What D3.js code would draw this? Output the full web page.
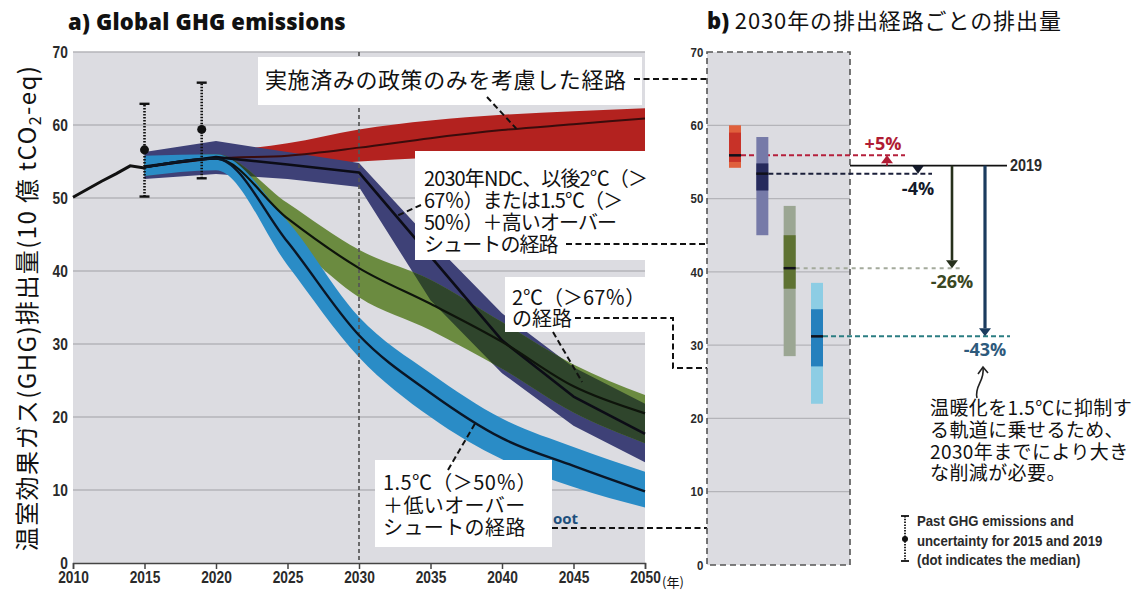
<!DOCTYPE html>
<html>
<head>
<meta charset="utf-8">
<script src="https://cdn.jsdelivr.net/npm/d3@7"></script>
<style>
  html, body { margin: 0; padding: 0; background: #ffffff; }
  svg { display: block; }
  .jp { font-family: "Noto Sans CJK JP", "Noto Sans", sans-serif; fill: #111; }
  .num { font-family: "Liberation Sans", Arial, sans-serif; font-weight: bold; fill: #2a2a2a; }
  .head { font-family: "Open Sans", "Noto Sans", sans-serif; font-weight: 800; fill: #111; }
  .pct { font-family: "Open Sans", "Noto Sans", sans-serif; font-weight: 700; }
</style>
</head>
<body>
<svg id="chart" width="1144" height="590"></svg>
<script>
// ---------- data ----------
const histYears  = [2010, 2011, 2012, 2013, 2014, 2015];
const histValues = [50.1, 51.2, 52.3, 53.3, 54.4, 54.1];

const pastYears  = [2015, 2019];
const pastMedian = [56.6, 59.4];
const pastLow    = [50.2, 52.7];
const pastHigh   = [62.9, 65.8];

const pathYears = [2015, 2020, 2025, 2030, 2035, 2040, 2045, 2050];

// implemented policies
const policyLow  = [53.2, 53.8, 54.3, 55.0, 55.5, 55.9, 56.0, 56.0];
const policyMid  = [54.2, 55.4, 55.8, 56.9, 58.2, 59.3, 60.1, 60.9];
const policyHigh = [55.0, 56.3, 57.5, 59.4, 60.6, 61.4, 61.9, 62.3];

// NDCs to 2030, then 2°C / 1.5°C with high overshoot
const ndcLow  = [52.6, 53.3, 52.6, 51.5, 36.0, 26.0, 18.8, 13.8];
const ndcMid  = [54.3, 55.6, 54.6, 53.5, 42.0, 30.5, 22.8, 17.7];
const ndcHigh = [56.3, 57.8, 56.3, 54.8, 44.2, 34.2, 26.8, 21.8];

// 2°C (>67%)
const twoLow  = [53.0, 54.0, 44.7, 36.4, 31.9, 26.6, 20.6, 16.4];
const twoMid  = [54.2, 55.4, 47.2, 40.4, 35.5, 30.3, 24.2, 20.5];
const twoHigh = [55.0, 56.0, 49.3, 42.9, 38.8, 33.0, 27.2, 23.0];

// 1.5°C (>50%) with low overshoot
const lowLow  = [53.0, 53.8, 40.8, 28.2, 20.0, 14.2, 10.4, 7.6];
const lowMid  = [54.2, 55.4, 44.0, 31.2, 23.3, 17.1, 13.3, 9.8];
const lowHigh = [55.8, 56.0, 46.8, 33.7, 26.0, 19.8, 15.9, 12.5];

const xTicks = [2010, 2015, 2020, 2025, 2030, 2035, 2040, 2045, 2050];
const yTicks = [0, 10, 20, 30, 40, 50, 60, 70];

// 2030 emissions by pathway (panel b)
const scenarios    = ["policy", "ndc", "two", "low"];
const barOuterLow  = [54.2, 45.0, 28.5, 22.0];
const barOuterHigh = [60.0, 58.4, 49.0, 38.5];
const barInnerLow  = [55.0, 51.1, 37.7, 27.1];
const barInnerHigh = [59.0, 54.8, 45.0, 34.9];
const barMedian    = [55.9, 53.4, 40.5, 31.2];
const base2019     = 54.5;
const pctLabels    = ["+5%", "-4%", "-26%", "-43%"];

// ---------- colours ----------
const bandColor   = { policy: "#b3221f", ndc: "#3e4177", two: "#6b8b40", low: "#2a8cc6" };
const outerColor  = ["#e0603c", "#767aa8", "#9ba693", "#8dcde4"];
const innerColor  = ["#c83228", "#262a5c", "#5e7232", "#2580bd"];
const refColor    = ["#b5203c", "#1a1f3a", "#a4aa9c", "#2b7d82"];
const pctColor    = ["#b01c34", "#141a2a", "#3a4722", "#2d5a7c"];
const arrowColor  = ["#b01c34", "#141a2a", "#27311c", "#1b3b5e"];

// ---------- layout ----------
const svg = d3.select("#chart");
const xA = d3.scaleLinear().domain([2010, 2050]).range([73, 645]);
const yA = d3.scaleLinear().domain([0, 70]).range([563, 52]);
const yB = d3.scaleLinear().domain([0, 70]).range([565, 52]);
const xB = d3.scalePoint().domain(scenarios).range([735, 817]);

// condensed text block: squeezed horizontally around its anchor, one tspan per line
function narrow(x, y, texts, size, sx, opts = {}) {
  const t = svg.append("text").attr("class", "num")
    .attr("transform", `translate(${x},${y}) scale(${sx},1)`)
    .attr("text-anchor", opts.anchor || "start")
    .attr("font-size", size)
    .attr("font-weight", opts.weight || "bold")
    .attr("fill", opts.fill || "#1a1a1a");
  [].concat(texts).forEach((s, i) => t.append("tspan")
    .attr("x", 0).attr("y", i * (opts.step || 0) + 0.35 * size).text(s));
  return t;
}

// ===== Panel a =====
svg.append("text").attr("class", "head").attr("x", 68).attr("y", 30)
  .attr("font-size", 22).attr("letter-spacing", 0.2).text("a) Global GHG emissions");

svg.append("rect")
  .attr("x", xA(2010)).attr("y", yA(70))
  .attr("width", xA(2050) - xA(2010)).attr("height", yA(0) - yA(70))
  .attr("fill", "#dcdce1");

// horizontal grid
svg.append("g")
  .selectAll("line").data(yTicks.filter(d => d > 0)).join("line")
  .attr("x1", xA(2010)).attr("x2", xA(2050))
  .attr("y1", d => yA(d)).attr("y2", d => yA(d))
  .attr("stroke", "#b4b4b9").attr("stroke-width", 1.5);

// axes
const xAxis = svg.append("g").attr("transform", `translate(0,${yA(0)})`)
  .call(d3.axisBottom(xA).tickValues(xTicks).tickFormat(d3.format("d")).tickSize(6).tickPadding(3));
xAxis.select(".domain").attr("stroke", "#444").attr("stroke-width", 1.5);
xAxis.selectAll(".tick line").attr("stroke", "#444").attr("stroke-width", 1.5);
xAxis.selectAll("text").attr("class", "num").attr("font-size", 16).attr("fill", "#2a2a2a")
  .attr("transform", "scale(0.86,1)");

const yAxis = svg.append("g").attr("transform", `translate(${xA(2010)},0)`)
  .call(d3.axisLeft(yA).tickValues(yTicks).tickSize(0).tickPadding(6));
yAxis.select(".domain").remove();
yAxis.selectAll("text").attr("class", "num").attr("font-size", 16).attr("fill", "#2a2a2a")
  .attr("transform", "scale(0.86,1)");

svg.append("text").attr("class", "jp").attr("x", 662).attr("y", 587)
  .attr("font-size", 13).text("(年)");

// y label
const yLab = svg.append("text").attr("class", "jp")
  .attr("transform", "translate(36,308) rotate(-90)")
  .attr("text-anchor", "middle").attr("font-size", 24).attr("letter-spacing", 1.4);
yLab.append("tspan").text("温室効果ガス(GHG)排出量(10 億 tCO");
yLab.append("tspan").attr("font-size", 16).attr("dy", 5).text("2");
yLab.append("tspan").attr("dy", -5).text("-eq)");

// bands
const band = (lo, hi, curve) => d3.area()
  .x((d, i) => xA(pathYears[i]))
  .y0((d, i) => yA(lo[i]))
  .y1((d, i) => yA(hi[i]))
  .curve(curve)(pathYears);
const mid = (vals, curve) => d3.line()
  .x((d, i) => xA(pathYears[i]))
  .y((d, i) => yA(vals[i]))
  .curve(curve)(pathYears);

const smooth = d3.curveMonotoneX, sharp = d3.curveLinear;
const gBands = svg.append("g");
gBands.append("path").attr("d", band(policyLow, policyHigh, smooth)).attr("fill", bandColor.policy);
gBands.append("path").attr("d", band(ndcLow, ndcHigh, sharp)).attr("fill", bandColor.ndc);
gBands.append("path").attr("d", band(twoLow, twoHigh, smooth)).attr("fill", bandColor.two);

// where the 2°C band crosses the NDC band the two mix into a dark green
svg.append("defs").append("clipPath").attr("id", "twoClip")
  .append("path").attr("d", band(twoLow, twoHigh, smooth));
gBands.append("path").attr("d", band(ndcLow, ndcHigh, sharp))
  .attr("clip-path", "url(#twoClip)").attr("fill", "#2f452c");

gBands.append("path").attr("d", band(lowLow, lowHigh, smooth)).attr("fill", bandColor.low);

// 2030 marker, over the bands
svg.append("line")
  .attr("x1", xA(2030)).attr("x2", xA(2030)).attr("y1", yA(70)).attr("y2", yA(0))
  .attr("stroke", "#555").attr("stroke-opacity", 0.85)
  .attr("stroke-width", 2).attr("stroke-dasharray", "4,3");

// medians
const gMid = svg.append("g").attr("fill", "none").attr("stroke-linejoin", "round");
gMid.append("path").attr("d", mid(policyMid, smooth)).attr("stroke", "#3a0c0c").attr("stroke-width", 2);
gMid.append("path").attr("d", mid(ndcMid, sharp)).attr("stroke", "#0c0c16").attr("stroke-width", 2.6);
gMid.append("path").attr("d", mid(twoMid, smooth)).attr("stroke", "#0e140b").attr("stroke-width", 2.2);
gMid.append("path").attr("d", mid(lowMid, smooth)).attr("stroke", "#0a1626").attr("stroke-width", 2.4);

// history
svg.append("path")
  .attr("d", d3.line().x((d, i) => xA(histYears[i])).y(d => yA(d))(histValues))
  .attr("fill", "none").attr("stroke", "#111").attr("stroke-width", 3);

// past uncertainty
const gErr = svg.append("g");
pastYears.forEach((yr, i) => {
  const x = xA(yr);
  gErr.append("line").attr("x1", x).attr("x2", x).attr("y1", yA(pastLow[i])).attr("y2", yA(pastHigh[i]))
    .attr("stroke", "#111").attr("stroke-width", 2.6).attr("stroke-dasharray", "1.6,1.4");
  [pastLow[i], pastHigh[i]].forEach(v => gErr.append("line")
    .attr("x1", x - 5).attr("x2", x + 5).attr("y1", yA(v)).attr("y2", yA(v))
    .attr("stroke", "#111").attr("stroke-width", 2.4));
  gErr.append("circle").attr("cx", x).attr("cy", yA(pastMedian[i])).attr("r", 4.5).attr("fill", "#111");
});

// ---------- annotation boxes ----------
const lead = { stroke: "#111", "stroke-width": 2, "stroke-dasharray": "6,3.5", fill: "none" };
function leader(points) {
  const p = svg.append("path").attr("d", d3.line()(points));
  Object.entries(lead).forEach(([k, v]) => p.attr(k, v));
  return p;
}
function box(x, y, w, h) {
  svg.append("rect").attr("x", x).attr("y", y).attr("width", w).attr("height", h).attr("fill", "#ffffff");
}
// multi-line Japanese text; ys are the vertical centres of each line
function lines(x, ys, texts, size, spacing) {
  const t = svg.append("text").attr("class", "jp")
    .attr("font-size", size).attr("letter-spacing", spacing || 0);
  texts.forEach((s, i) => t.append("tspan")
    .attr("x", x).attr("y", ys[i] + 0.38 * size).text(s));
  return t;
}

// implemented policies
box(258, 57, 384, 48);
lines(265, [80], ["実施済みの政策のみを考慮した経路"], 22, 0.6);
leader([[487, 97], [xA(2041), yA(59.5)]]);
leader([[634, 79], [xB("policy"), 79], [xB("policy"), yB(barOuterHigh[0])]]);

// NDC / high overshoot
box(415, 151, 235, 109);
lines(424, [178, 200, 222, 244],
  ["2030年NDC、以後2℃（＞", "67％）または1.5℃（＞", "50％）＋高いオーバー", "シュートの経路"], 20, -0.9);
leader([[421, 205], [xA(2032.7), yA(47.6)]]);
leader([[566, 244], [xB("ndc"), 244], [xB("ndc"), yB(barOuterLow[1])]]);

// 2°C
box(505, 277, 142, 55);
lines(512, [297, 318], ["2℃（＞67％）", "の経路"], 20, 0);
leader([[575, 318], [673, 318], [673, 368], [xB("two"), 368], [xB("two"), yB(barOuterLow[2])]]);
leader([[553, 332], [xA(2045.6), yA(24.8)]]);

// 1.5°C low overshoot
box(375, 460, 177, 87);
lines(383, [482, 505, 527], ["1.5℃（＞50％）", "＋低いオーバー", "シュートの経路"], 20, 0.4);
leader([[448, 470], [xA(2038.2), yA(19.4)]]);
leader([[552, 528], [xB("low"), 528], [xB("low"), yB(barOuterLow[3])]]);
svg.append("text").attr("x", 553).attr("y", 524)
  .attr("font-family", "'Open Sans', sans-serif").attr("font-weight", 700)
  .attr("font-size", 15).attr("fill", "#1d4f7c").text("oot");

// ===== Panel b =====
const tB = svg.append("text").attr("x", 707).attr("y", 29).attr("font-size", 22);
tB.append("tspan").attr("class", "head").attr("font-weight", 700).text("b) ");
tB.append("tspan").attr("class", "jp").attr("letter-spacing", 0.9).text("2030年の排出経路ごとの排出量");

svg.append("rect")
  .attr("x", 707).attr("y", yB(70)).attr("width", 143).attr("height", yB(0) - yB(70))
  .attr("fill", "#dcdce1");
svg.append("g").selectAll("line").data(yTicks.filter(d => d > 0 && d < 70)).join("line")
  .attr("x1", 707).attr("x2", 850).attr("y1", d => yB(d)).attr("y2", d => yB(d))
  .attr("stroke", "#b4b4b9").attr("stroke-width", 1.3);
svg.append("rect")
  .attr("x", 707).attr("y", yB(70)).attr("width", 143).attr("height", yB(0) - yB(70))
  .attr("fill", "none").attr("stroke", "#555").attr("stroke-width", 1.6).attr("stroke-dasharray", "6,4");

const yAxisB = svg.append("g").attr("transform", "translate(705,0)")
  .call(d3.axisLeft(yB).tickValues(yTicks).tickSize(0).tickPadding(2));
yAxisB.select(".domain").remove();
yAxisB.selectAll("text").attr("class", "num").attr("font-size", 13).attr("fill", "#333")
  .attr("transform", "scale(0.88,1)");

// reference lines from bar medians
const refEnds = [905, 932, 962, 1010];
scenarios.forEach((s, i) => {
  svg.append("line")
    .attr("x1", xB(s) + 6).attr("x2", refEnds[i])
    .attr("y1", yB(barMedian[i])).attr("y2", yB(barMedian[i]))
    .attr("stroke", refColor[i]).attr("stroke-width", 2)
    .attr("stroke-dasharray", i === 2 ? "4,4" : "5,3");
});

// bars
const barW = 12;
scenarios.forEach((s, i) => {
  const x = xB(s) - barW / 2;
  svg.append("rect").attr("x", x).attr("width", barW)
    .attr("y", yB(barOuterHigh[i])).attr("height", yB(barOuterLow[i]) - yB(barOuterHigh[i]))
    .attr("fill", outerColor[i]);
  svg.append("rect").attr("x", x).attr("width", barW)
    .attr("y", yB(barInnerHigh[i])).attr("height", yB(barInnerLow[i]) - yB(barInnerHigh[i]))
    .attr("fill", innerColor[i]);
  svg.append("line").attr("x1", x).attr("x2", x + barW)
    .attr("y1", yB(barMedian[i])).attr("y2", yB(barMedian[i]))
    .attr("stroke", "#10101a").attr("stroke-width", 2.5);
});

// 2019 level
svg.append("line").attr("x1", 850).attr("x2", 1007)
  .attr("y1", yB(base2019)).attr("y2", yB(base2019))
  .attr("stroke", "#111").attr("stroke-width", 1.6);
narrow(1010, yB(base2019), "2019", 16, 0.9, { weight: "bold", fill: "#111" });

// change arrows
const arrowX = [887, 918, 952, 985];
const arrowW = [2, 2, 2.6, 3.2];
scenarios.forEach((s, i) => {
  const x = arrowX[i], y0 = yB(base2019), y1 = yB(barMedian[i]);
  const dir = y1 > y0 ? 1 : -1;
  const hl = 8, hw = 6;
  const long = Math.abs(y1 - y0) > hl + 1;
  if (long) {
    svg.append("line").attr("x1", x).attr("x2", x).attr("y1", y0).attr("y2", y1 - dir * hl)
      .attr("stroke", arrowColor[i]).attr("stroke-width", arrowW[i]);
  }
  const base = long ? y1 - dir * hl : y0;
  svg.append("path")
    .attr("d", `M${x - hw},${base} L${x + hw},${base} L${x},${y1} Z`)
    .attr("fill", arrowColor[i]);
});
const labelOffset = [-12, 14, 13, 13];
scenarios.forEach((s, i) => {
  svg.append("text").attr("class", "pct")
    .attr("x", arrowX[i] - (i === 0 ? 4 : 0)).attr("y", yB(barMedian[i]) + labelOffset[i])
    .attr("text-anchor", "middle").attr("dominant-baseline", "central")
    .attr("font-size", 18).attr("fill", pctColor[i]).text(pctLabels[i]);
});

// note with curved pointer
svg.append("path").attr("d", "M977,398 C974,386 985,381 983,368")
  .attr("fill", "none").attr("stroke", "#222").attr("stroke-width", 1.6);
svg.append("path").attr("d", "M978,374 L983,367 L988,373")
  .attr("fill", "none").attr("stroke", "#222").attr("stroke-width", 1.6);
lines(930, [408, 430, 452, 473],
  ["温暖化を1.5℃に抑制す", "る軌道に乗せるため、", "2030年までにより大き", "な削減が必要。"], 19, 0.4);

// legend for past uncertainty
const lx = 905;
svg.append("line").attr("x1", lx).attr("x2", lx).attr("y1", 516).attr("y2", 561)
  .attr("stroke", "#111").attr("stroke-width", 1.8).attr("stroke-dasharray", "1.5,1.3");
[516, 561].forEach(y => svg.append("line").attr("x1", lx - 4).attr("x2", lx + 4)
  .attr("y1", y).attr("y2", y).attr("stroke", "#111").attr("stroke-width", 1.8));
svg.append("circle").attr("cx", lx).attr("cy", 539).attr("r", 3).attr("fill", "#111");
narrow(917, 521, ["Past GHG emissions and", "uncertainty for 2015 and 2019", "(dot indicates the median)"],
  15, 0.88, { step: 19.5 });
</script>
</body>
</html>
